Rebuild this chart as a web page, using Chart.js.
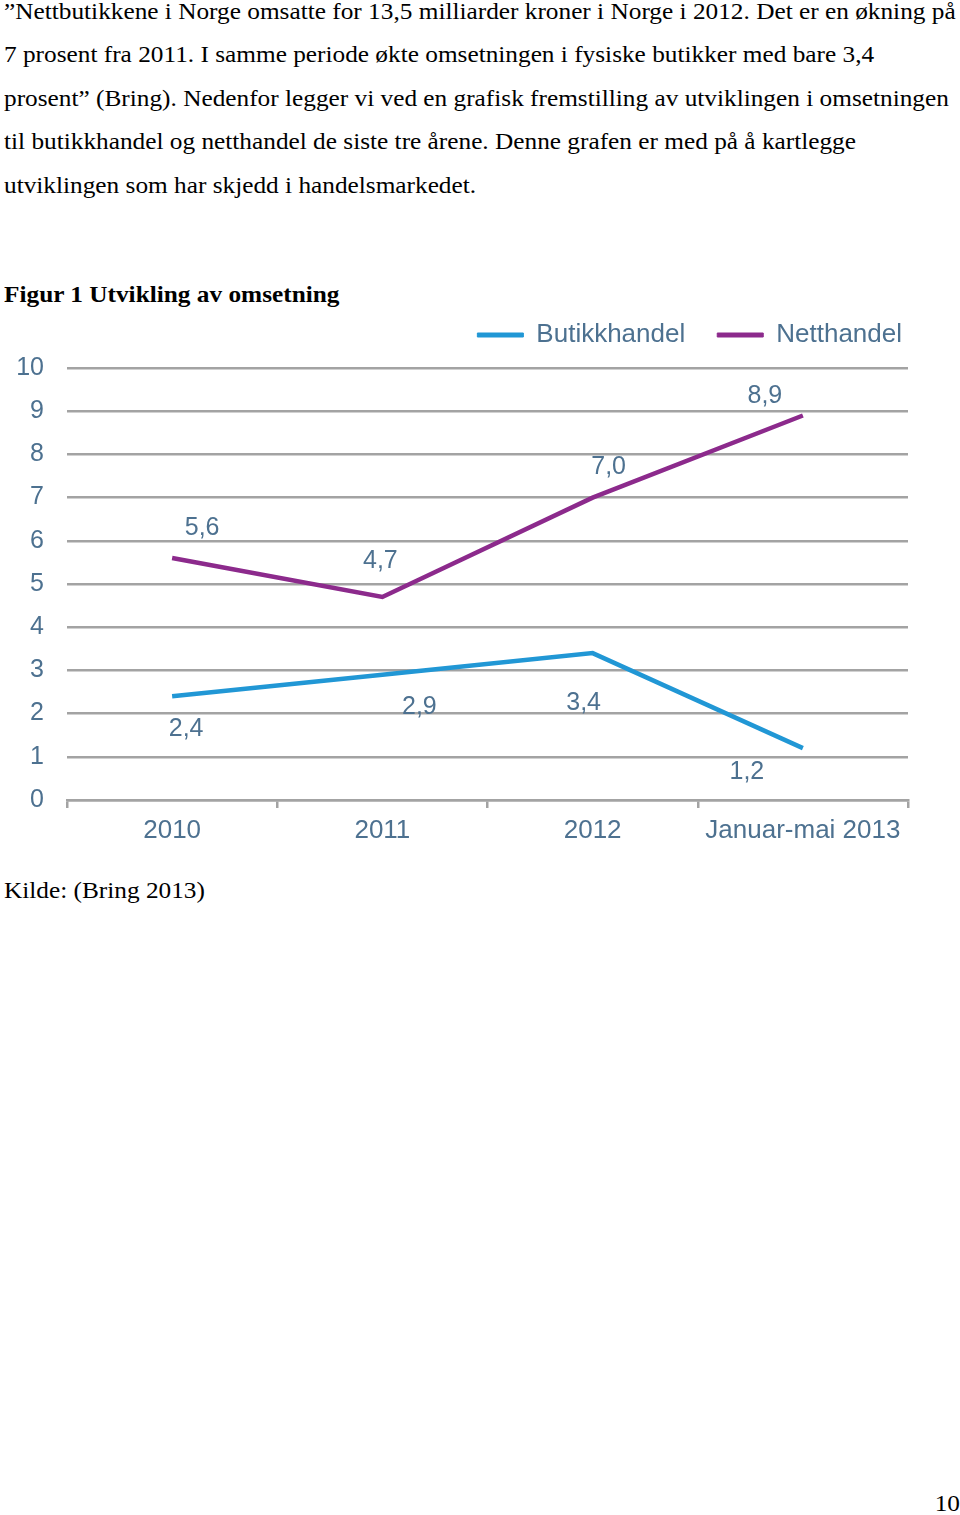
<!DOCTYPE html>
<html>
<head>
<meta charset="utf-8">
<script src="https://cdn.jsdelivr.net/npm/chart.js@4"></script>
<style>
  html, body { margin: 0; padding: 0; background: #fff; }
  body { width: 960px; height: 1515px; position: relative; overflow: hidden; font-family: "Liberation Serif", "Times New Roman", serif; color: #000; }
  .t { position: absolute; left: 4px; font-size: 24px; white-space: nowrap; transform: scaleX(1.054); transform-origin: 0 0; }
  .para { top: -10px; line-height: 43.4px; }
  .cap { top: 280px; font-weight: bold; line-height: 28px; }
  .src { top: 876px; line-height: 28px; }
  .pg { position: absolute; right: 0px; top: 1489px; font-size: 24px; line-height: 28px; transform: scaleX(1.054); transform-origin: 100% 0; }
  #wrap { position: absolute; left: 0; top: 310px; width: 920px; height: 550px; }
</style>
</head>
<body>
<div class="t para">”Nettbutikkene i Norge omsatte for 13,5 milliarder kroner i Norge i 2012. Det er en økning på<br>7 prosent fra 2011. I samme periode økte omsetningen i fysiske butikker med bare 3,4<br>prosent” (Bring). Nedenfor legger vi ved en grafisk fremstilling av utviklingen i omsetningen<br>til butikkhandel og netthandel de siste tre årene. Denne grafen er med på å kartlegge<br>utviklingen som har skjedd i handelsmarkedet.</div>
<div class="t cap">Figur 1 Utvikling av omsetning</div>
<div id="wrap"><canvas id="c"></canvas></div>
<div class="t src">Kilde: (Bring 2013)</div>
<div class="pg">10</div>
<script>
const categories = ["2010", "2011", "2012", "Januar-mai 2013"];
const butikkhandel = [2.4, 2.9, 3.4, 1.2];
const netthandel = [5.6, 4.7, 7.0, 8.9];
const yTicks = [0, 1, 2, 3, 4, 5, 6, 7, 8, 9, 10];

const FONT = '"Liberation Sans", Arial, sans-serif';
const TEXTCOL = '#4d7190';
const BLUE = '#2197d5';
const PURPLE = '#8c2a8c';
const GRID = '#a3a3a3';

// label offsets (styling only)
const labelOffsets = {
  0: [[14, 33], [37, 32], [-9, 50], [-56, 24]],
  1: [[30, -30], [-2, -36], [16, -30], [-38, -19]]
};

const valueLabels = {
  id: 'valueLabels',
  afterDatasetsDraw(chart) {
    const ctx = chart.ctx;
    ctx.save();
    ctx.font = '25px ' + FONT;
    ctx.fillStyle = TEXTCOL;
    ctx.textAlign = 'center';
    ctx.textBaseline = 'middle';
    chart.data.datasets.forEach((ds, di) => {
      const meta = chart.getDatasetMeta(di);
      meta.data.forEach((pt, i) => {
        const off = labelOffsets[di][i];
        ctx.fillText(ds.data[i].toFixed(1).replace('.', ','), pt.x + off[0], pt.y + off[1]);
      });
    });
    ctx.restore();
  }
};

// legend sizing / placement tweaks
const legendTweak = {
  id: 'legendTweak',
  beforeInit(chart) {
    const lg = chart.legend;
    const origFit = lg.fit;
    lg.fit = function () { origFit.call(lg); lg.height = 58; };
  },
  afterLayout(chart) {
    const lg = chart.legend;
    lg.left += 26; lg.right += 26;
    lg.top -= 20; lg.bottom -= 20;
  }
};

new Chart(document.getElementById('c'), {
  type: 'line',
  data: {
    labels: categories,
    datasets: [
      { label: 'Butikkhandel', data: butikkhandel, borderColor: BLUE, backgroundColor: BLUE, borderWidth: 4.5, pointRadius: 0, tension: 0 },
      { label: 'Netthandel', data: netthandel, borderColor: PURPLE, backgroundColor: PURPLE, borderWidth: 4.5, pointRadius: 0, tension: 0 }
    ]
  },
  options: {
    responsive: true,
    maintainAspectRatio: false,
    animation: false,
    layout: { padding: { top: 0, right: 12, left: 0, bottom: 0 } },
    plugins: {
      legend: {
        display: true,
        position: 'top',
        align: 'end',
        labels: {
          font: { family: FONT, size: 26 },
          color: TEXTCOL,
          boxWidth: 46,
          boxHeight: 4,
          padding: 32,
          generateLabels(chart) {
            const items = Chart.defaults.plugins.legend.labels.generateLabels(chart);
            items.forEach(it => { it.lineWidth = 1; it.fillStyle = it.strokeStyle; });
            return items;
          }
        }
      },
      tooltip: { enabled: false }
    },
    scales: {
      x: {
        offset: true,
        grid: { display: true, offset: true, drawOnChartArea: false, drawTicks: true, tickLength: 8, color: GRID, lineWidth: 2.5 },
        border: { display: true, color: GRID, width: 2.5 },
        ticks: { font: { family: FONT, size: 26 }, color: TEXTCOL, padding: 7, maxRotation: 0, autoSkip: false },
        afterFit(s) { s.height = 60; }
      },
      y: {
        min: 0, max: 10,
        afterBuildTicks(s) { s.ticks = yTicks.map(v => ({ value: v })); },
        grid: { color: GRID, lineWidth: 2.5, drawTicks: false },
        border: { display: false },
        ticks: { font: { family: FONT, size: 25 }, color: TEXTCOL, padding: 23 },
        afterFit(s) { s.width = 67; }
      }
    }
  },
  plugins: [valueLabels, legendTweak]
});
</script>
</body>
</html>
